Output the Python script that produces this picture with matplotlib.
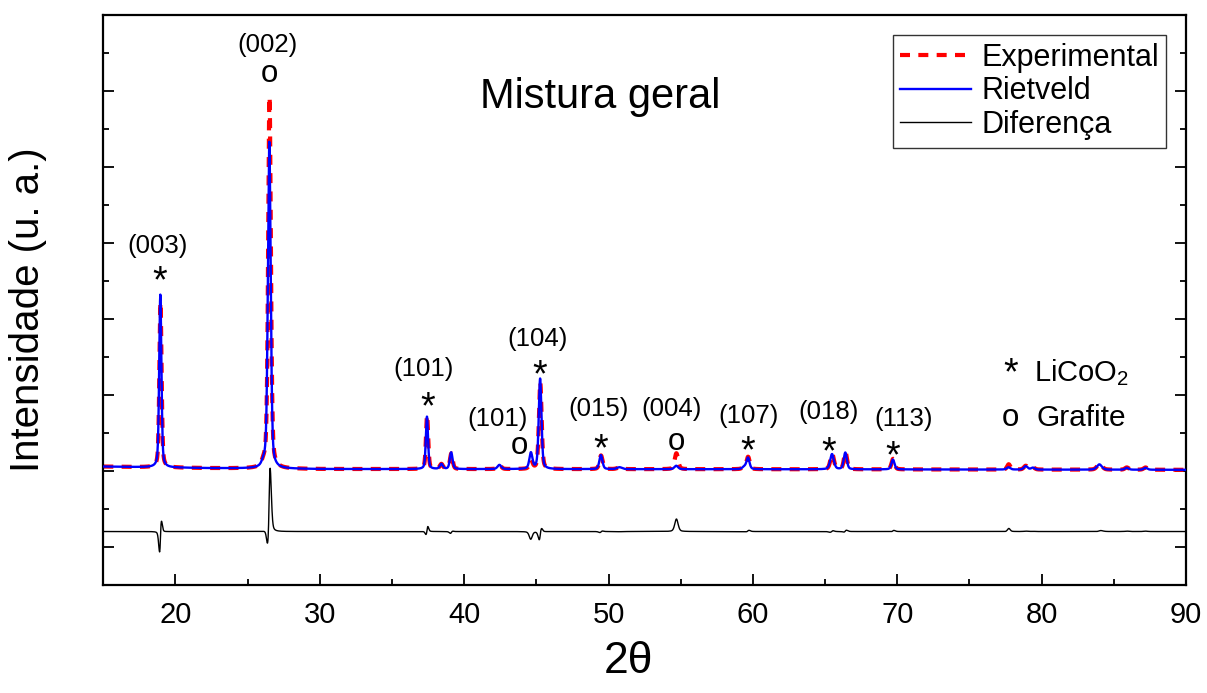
import numpy as np
import matplotlib
matplotlib.use("Agg")
import matplotlib.pyplot as plt
from matplotlib.ticker import MultipleLocator

plt.rcParams["font.family"] = ["Liberation Sans", "DejaVu Sans"]
plt.rcParams["mathtext.fontset"] = "custom"
plt.rcParams["mathtext.rm"] = "Liberation Sans"
plt.rcParams["mathtext.it"] = "Liberation Sans:italic"

# ---- background of the pattern (2theta, counts) ----
bg_theta = [15, 22, 30, 60, 90]
bg_counts = [110, 70, 45, 40, 25]

# ---- Rietveld (calculated) reflections ----
calc_pos = [18.95, 26.10, 26.50, 37.42, 38.42, 39.10, 42.44, 44.62, 45.26, 49.47,
            50.76, 54.69, 59.40, 59.66, 65.48, 66.40, 69.70, 77.70, 78.90, 79.40,
            84.00, 85.90, 87.20]
calc_height = [4550, 100, 8600, 1380, 130, 440, 110, 420, 2380, 370,
               50, 90, 60, 300, 400, 440, 260, 60, 90, 50,
               140, 50, 50]
calc_fwhm = [0.18, 0.30, 0.23, 0.18, 0.25, 0.22, 0.30, 0.25, 0.22, 0.25,
             0.40, 0.30, 0.30, 0.25, 0.30, 0.25, 0.25, 0.30, 0.30, 0.30,
             0.40, 0.30, 0.30]

# ---- measured reflections ----
exp_pos = [18.962, 26.10, 26.515, 37.43, 38.42, 39.11, 42.44, 44.63, 45.27, 49.48,
           50.76, 54.70, 59.40, 59.67, 65.49, 66.41, 69.71, 77.72, 78.90, 79.40,
           84.02, 85.90, 87.20]
exp_height = [4350, 100, 9800, 1420, 130, 410, 110, 220, 2280, 360,
              45, 420, 60, 320, 410, 455, 280, 140, 100, 55,
              160, 60, 60]
exp_fwhm = [0.18, 0.30, 0.225, 0.18, 0.25, 0.22, 0.30, 0.25, 0.22, 0.25,
            0.40, 0.28, 0.30, 0.25, 0.29, 0.25, 0.25, 0.25, 0.30, 0.30,
            0.40, 0.30, 0.30]

diff_offset = -1600

# ---- peak labels: (hkl text, 2theta, y) and phase symbol ----
hkl_text = ["(003)", "(002)", "(101)", "(101)", "(104)", "(015)", "(004)", "(107)", "(018)", "(113)"]
hkl_x = [18.79, 26.40, 37.22, 42.28, 45.05, 49.34, 54.40, 59.73, 65.21, 70.41]
hkl_y = [5916, 11209, 2678, 1361, 3468, 1625, 1625, 1448, 1546, 1361]
sym_text = ["*", "o", "*", "o", "*", "*", "o", "*", "*", "*"]
sym_x = [18.93, 26.48, 37.50, 43.80, 45.20, 49.46, 54.68, 59.67, 65.28, 69.71]
sym_y = [4690, 10235, 1372, 440, 2215, 266, 545, 214, 187, 82]


def pseudo_voigt(x, centers, heights, widths, eta=0.4):
    y = np.zeros_like(x)
    for c, h, w in zip(centers, heights, widths):
        u = (x - c) / w
        g = np.exp(-4 * np.log(2) * u ** 2)
        lor = 1.0 / (1.0 + 4 * u ** 2)
        y += h * (eta * lor + (1 - eta) * g)
    return y


two_theta = np.linspace(15, 90, 7501)
background = np.interp(two_theta, bg_theta, bg_counts)
y_calc = background + pseudo_voigt(two_theta, calc_pos, calc_height, calc_fwhm)
y_exp = background + pseudo_voigt(two_theta, exp_pos, exp_height, exp_fwhm)
y_diff = y_exp - y_calc + diff_offset

fig = plt.figure(figsize=(12.07, 6.93), dpi=100)
ax = fig.add_axes([0.08558, 0.15628, 0.8970, 0.82208])

ax.plot(two_theta, y_exp, color="#ff0000", lw=3.0, linestyle=(0, (2.4, 2.0)),
        label="Experimental", zorder=2)
ax.plot(two_theta, y_calc, color="#0000ff", lw=1.7, label="Rietveld", zorder=3)
ax.plot(two_theta, y_diff, color="black", lw=1.0, label="Diferença", zorder=4)

ax.set_xlim(15, 90)
ax.set_ylim(-3000, 12000)
ax.xaxis.set_major_locator(MultipleLocator(10))
ax.xaxis.set_minor_locator(MultipleLocator(5))
ax.yaxis.set_major_locator(MultipleLocator(2000))
ax.yaxis.set_minor_locator(MultipleLocator(1000))

ax.tick_params(axis="x", which="both", direction="in", top=False, bottom=True,
               labelsize=21, pad=12)
ax.tick_params(axis="y", which="both", direction="in", left=True, right=True,
               labelleft=False)
ax.tick_params(which="major", length=8, width=1.3)
ax.tick_params(which="minor", length=4, width=1.3)
for sp in ax.spines.values():
    sp.set_linewidth(1.6)

ax.set_xlabel("2θ", fontsize=32)
ax.xaxis.set_label_coords(0.4855, -0.098)
ax.set_ylabel("Intensidade (u. a.)", fontsize=29)
ax.yaxis.set_label_coords(-0.052, 0.482)

ax.text(0.459, 0.856, "Mistura geral", transform=ax.transAxes, fontsize=30,
        ha="center", va="center")

for t, x, y in zip(hkl_text, hkl_x, hkl_y):
    ax.text(x, y, t, fontsize=18.5, ha="center", va="center")
for t, x, y in zip(sym_text, sym_x, sym_y):
    ax.text(x, y, t, fontsize=27 if t == "*" else 22.5, ha="center", va="baseline")

# phase key
ax.text(0.838, 0.352, "*", transform=ax.transAxes, fontsize=27, ha="center", va="baseline")
ax.text(0.8594, 0.358, "LiCoO$_2$", transform=ax.transAxes, fontsize=21, ha="left", va="baseline")
ax.text(0.8375, 0.2786, "o", transform=ax.transAxes, fontsize=22.5, ha="center", va="baseline")
ax.text(0.862, 0.2786, "Grafite", transform=ax.transAxes, fontsize=21.5, ha="left", va="baseline")

leg = ax.legend(loc="upper right", bbox_to_anchor=(0.982, 0.965), borderaxespad=0,
                fontsize=22, handlelength=2.3, handletextpad=0.35, labelspacing=0.12,
                borderpad=0.25, fancybox=False, framealpha=1)
leg.get_frame().set_edgecolor("#333333")
leg.get_frame().set_linewidth(1.0)

fig.savefig("out.png", dpi=100)
